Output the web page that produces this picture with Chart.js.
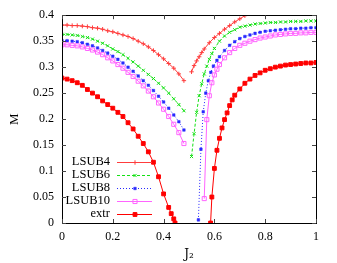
<!DOCTYPE html>
<html>
<head>
<meta charset="utf-8">
<script src="https://cdn.jsdelivr.net/npm/chart.js@4/dist/chart.umd.min.js"></script>
<style>
html,body{margin:0;padding:0;background:#fff;}
#c{display:block;}
</style>
</head>
<body>
<canvas id="c" width="337" height="263"></canvas>
<script>
// ---- data ----
const seriesNames = ["LSUB4", "LSUB6", "LSUB8", "LSUB10", "extr"];
const xTicks = [0, 0.2, 0.4, 0.6, 0.8, 1];
const xTickLabels = ["0", "0.2", "0.4", "0.6", "0.8", "1"];
const yTicks = [0, 0.05, 0.1, 0.15, 0.2, 0.25, 0.3, 0.35, 0.4];
const yTickLabels = ["0", "0.05", "0.1", "0.15", "0.2", "0.25", "0.3", "0.35", "0.4"];

const jLeft = [0,0.02,0.04,0.06,0.08,0.10,0.12,0.14,0.16,0.18,0.20,0.22,0.24,0.26,0.28,0.30,0.32,0.34,0.36,0.38,0.40,0.42,0.44,0.46,0.48];
const lsub4Left  = [0.381,0.381,0.380,0.380,0.379,0.378,0.376,0.375,0.373,0.370,0.368,0.365,0.362,0.359,0.355,0.350,0.345,0.339,0.332,0.324,0.316,0.307,0.298,0.287,0.274];
const lsub6Left  = [0.363,0.363,0.362,0.361,0.359,0.357,0.354,0.350,0.346,0.341,0.335,0.330,0.324,0.317,0.310,0.302,0.294,0.286,0.278,0.269,0.260,0.250,0.239,0.228,0.216];
const lsub8Left  = [0.351,0.351,0.350,0.349,0.347,0.344,0.341,0.337,0.332,0.327,0.321,0.315,0.308,0.300,0.292,0.283,0.274,0.265,0.255,0.244,0.233,0.221,0.208,0.195,0.179];
const lsub10Left = [0.343,0.343,0.342,0.341,0.339,0.336,0.333,0.329,0.324,0.318,0.312,0.305,0.298,0.290,0.282,0.273,0.264,0.254,0.243,0.231,0.219,0.205,0.190,0.174,0.153];
const extrLeftJ  = [0,0.02,0.04,0.06,0.08,0.10,0.12,0.14,0.16,0.18,0.20,0.22,0.24,0.26,0.28,0.30,0.32,0.34,0.36,0.38,0.40,0.42,0.43,0.44,0.445];
const extrLeft   = [0.279,0.277,0.274,0.270,0.265,0.257,0.250,0.243,0.235,0.228,0.221,0.213,0.205,0.193,0.181,0.167,0.153,0.137,0.117,0.089,0.056,0.030,0.018,0.008,0.0];

const lsub4RightJ = [0.51,0.52,0.53,0.54,0.55,0.56,0.58,0.60,0.62,0.64,0.66,0.68,0.70,0.72];
const lsub4Right  = [0.291,0.303,0.312,0.320,0.328,0.335,0.347,0.357,0.365,0.373,0.380,0.387,0.393,0.399];
const lsub6RightJ = [0.51,0.52,0.53,0.54,0.55,0.56,0.57,0.58,0.59,0.60,0.62,0.64,0.66,0.68,0.70,0.72,0.74,0.76,0.78,0.80,0.82,0.84,0.86,0.88,0.90,0.92,0.94,0.96,0.98,1.0];
const lsub6Right  = [0.128,0.172,0.213,0.245,0.268,0.287,0.302,0.315,0.326,0.336,0.350,0.360,0.367,0.372,0.377,0.379,0.381,0.383,0.384,0.385,0.386,0.386,0.387,0.387,0.388,0.388,0.388,0.389,0.389,0.389];
const lsub8RightJ = [0.537,0.547,0.556,0.566,0.576,0.586,0.596,0.61,0.62,0.64,0.66,0.68,0.70,0.72,0.74,0.76,0.78,0.80,0.82,0.84,0.86,0.88,0.90,0.92,0.94,0.96,0.98,1.0];
const lsub8Right  = [0.006,0.142,0.214,0.250,0.274,0.290,0.302,0.313,0.320,0.332,0.342,0.349,0.355,0.359,0.362,0.365,0.367,0.369,0.370,0.371,0.372,0.373,0.374,0.374,0.375,0.375,0.376,0.376];
const lsub10RightJ = [0.56,0.57,0.58,0.59,0.60,0.61,0.62,0.64,0.66,0.68,0.70,0.72,0.74,0.76,0.78,0.80,0.82,0.84,0.86,0.88,0.90,0.92,0.94,0.96,0.98,1.0];
const lsub10Right  = [0.047,0.199,0.245,0.270,0.285,0.296,0.305,0.318,0.328,0.336,0.342,0.346,0.350,0.353,0.356,0.358,0.360,0.362,0.363,0.364,0.365,0.365,0.366,0.366,0.367,0.367];
const extrRightJ = [0.585,0.59,0.60,0.61,0.62,0.63,0.64,0.65,0.66,0.67,0.68,0.70,0.72,0.74,0.76,0.78,0.80,0.82,0.84,0.86,0.88,0.90,0.92,0.94,0.96,0.98,1.0];
const extrRight  = [0.0,0.050,0.105,0.140,0.163,0.183,0.199,0.212,0.226,0.237,0.246,0.258,0.269,0.277,0.284,0.289,0.294,0.297,0.300,0.302,0.304,0.305,0.306,0.307,0.308,0.308,0.309];

// ---- helpers ----
function branch(js, ms) { return js.map((j, i) => ({x: j, y: ms[i]})); }
function twoBranches(lj, lm, rj, rm) {
  return branch(lj, lm).concat([{x: 0.5, y: null}], branch(rj, rm));
}

const styles = [
  {color: 'rgb(255,60,60)', dash: [], pointStyle: 'cross', radius: 2.2, fill: 'rgb(255,60,60)', pbw: 1},
  {color: 'rgb(20,225,20)', dash: [3,2], pointStyle: 'crossRot', radius: 2.2, fill: 'rgb(20,225,20)', pbw: 1},
  {color: 'rgb(40,40,255)', dash: [1,2], pointStyle: 'rect', radius: 1.8, fill: 'rgb(40,40,255)', pbw: 0.5},
  {color: 'rgb(255,100,255)', dash: [], pointStyle: 'rect', radius: 2.9, fill: 'rgba(255,255,255,0)', pbw: 1},
  {color: 'rgb(255,0,0)', dash: [], pointStyle: 'rect', radius: 2.7, fill: 'rgb(255,0,0)', pbw: 1}
];

const dataSets = [
  twoBranches(jLeft, lsub4Left, lsub4RightJ, lsub4Right),
  twoBranches(jLeft, lsub6Left, lsub6RightJ, lsub6Right),
  twoBranches(jLeft, lsub8Left, lsub8RightJ, lsub8Right),
  twoBranches(jLeft, lsub10Left, lsub10RightJ, lsub10Right),
  twoBranches(extrLeftJ, extrLeft, extrRightJ, extrRight)
];

const datasets = seriesNames.map((name, i) => ({
  label: name,
  data: dataSets[i],
  borderColor: styles[i].color,
  backgroundColor: styles[i].fill,
  borderWidth: 1,
  borderDash: styles[i].dash,
  pointStyle: styles[i].pointStyle,
  pointRadius: styles[i].radius,
  pointHoverRadius: styles[i].radius,
  pointBorderColor: styles[i].color,
  pointBackgroundColor: styles[i].fill,
  pointBorderWidth: styles[i].pbw,
  tension: 0,
  spanGaps: false,
  order: 5 - i
}));

const SERIF = "'Liberation Serif', 'DejaVu Serif', serif";

const frameAndTicks = {
  id: 'frameAndTicks',
  afterDraw(chart) {
    const {ctx, chartArea: a, scales} = chart;
    ctx.save();
    ctx.strokeStyle = '#000';
    ctx.lineWidth = 1;
    ctx.setLineDash([]);
    ctx.strokeRect(Math.round(a.left) + 0.5, Math.round(a.top) + 0.5,
                   Math.round(a.right - a.left), Math.round(a.bottom - a.top));
    ctx.strokeStyle = '#444';
    const L = 4;
    ctx.beginPath();
    xTicks.forEach(v => {
      const px = Math.round(scales.x.getPixelForValue(v)) + 0.5;
      ctx.moveTo(px, a.bottom); ctx.lineTo(px, a.bottom - L);
      ctx.moveTo(px, a.top); ctx.lineTo(px, a.top + L);
    });
    yTicks.forEach(v => {
      const py = Math.round(scales.y.getPixelForValue(v)) + 0.5;
      ctx.moveTo(a.left, py); ctx.lineTo(a.left + L, py);
      ctx.moveTo(a.right, py); ctx.lineTo(a.right - L, py);
    });
    ctx.stroke();
    ctx.restore();
  }
};

const keyBox = {
  id: 'keyBox',
  afterDatasetsDraw(chart) {
    const ctx = chart.ctx;
    ctx.save();
    ctx.font = "12.5px " + SERIF;
    ctx.textAlign = 'right';
    ctx.textBaseline = 'middle';
    seriesNames.forEach((name, i) => {
      const y = 161.5 + i * 13;
      const s = styles[i];
      ctx.fillStyle = '#000';
      ctx.fillText(name, 110, y + 0.5);
      ctx.strokeStyle = s.color;
      ctx.lineWidth = 1;
      ctx.setLineDash(s.dash);
      ctx.beginPath();
      ctx.moveTo(117, Math.round(y) + 0.5);
      ctx.lineTo(152, Math.round(y) + 0.5);
      ctx.stroke();
      ctx.setLineDash([]);
      ctx.fillStyle = s.fill;
      ctx.strokeStyle = s.color;
      ctx.lineWidth = s.pbw;
      Chart.helpers.drawPoint(ctx, {pointStyle: s.pointStyle, radius: s.radius, rotation: 0, borderWidth: s.pbw}, 135, Math.round(y) + 0.5);
    });
    ctx.restore();
  }
};

new Chart(document.getElementById('c'), {
  type: 'line',
  data: {datasets},
  options: {
    responsive: false,
    animation: false,
    devicePixelRatio: 1,
    layout: {padding: {top: 15, right: 21, left: 0, bottom: 0}},
    plugins: {legend: {display: false}, tooltip: {enabled: false}},
    scales: {
      x: {
        type: 'linear', min: 0, max: 1,
        afterBuildTicks: s => { s.ticks = xTicks.map(v => ({value: v})); },
        afterFit: s => { s.height = 40; },
        ticks: {
          callback: (v, i) => xTickLabels[i],
          color: '#000', padding: 7, maxRotation: 0, autoSkip: false,
          font: {family: SERIF, size: 12}
        },
        grid: {display: false, drawTicks: false},
        border: {display: false},
        title: {display: true, text: 'J₂', color: '#000', font: {family: "'DejaVu Serif', serif", size: 12}, padding: {top: 0, bottom: 1}}
      },
      y: {
        type: 'linear', min: 0, max: 0.4,
        afterBuildTicks: s => { s.ticks = yTicks.map(v => ({value: v})); },
        afterFit: s => { s.width = 62; },
        ticks: {
          callback: (v, i) => yTickLabels[i],
          color: '#000', padding: 8, autoSkip: false,
          font: {family: SERIF, size: 12}
        },
        grid: {display: false, drawTicks: false},
        border: {display: false},
        title: {display: true, text: 'M', color: '#000', font: {family: SERIF, size: 13}, padding: {top: 7, bottom: 0}}
      }
    }
  },
  plugins: [frameAndTicks, keyBox]
});
</script>
</body>
</html>
